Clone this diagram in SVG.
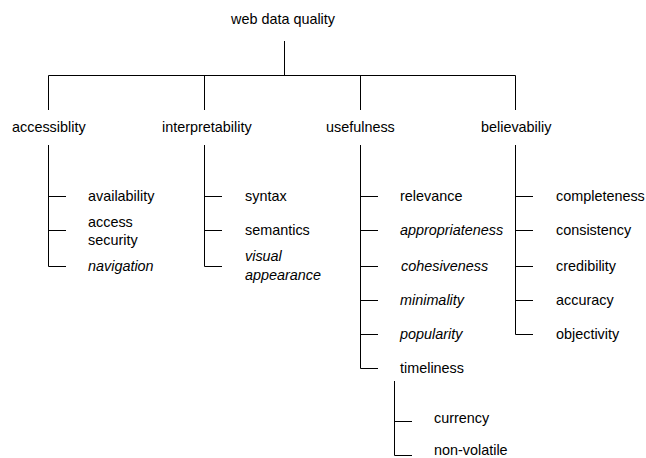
<svg xmlns="http://www.w3.org/2000/svg" width="646" height="458" viewBox="0 0 646 458">
<style>
text{font-family:"Liberation Sans",Arial,sans-serif;font-size:14.4px;fill:#000}
.i{font-style:italic}
#connectors path{fill:none;stroke:#000;stroke-width:1}
</style>
<rect width="646" height="458" fill="#fff"/>
<g id="connectors">
<path d="M284.5 41V75.5M48.5 110V75.5H515.5V110M204.5 75.5V110M360.5 75.5V110"/>
<path d="M48.5 145V266.5H66M48.5 196.5H66M48.5 230.5H66"/>
<path d="M204.5 145V266.5H222M204.5 196.5H222M204.5 230.5H222"/>
<path d="M360.5 145V368.5H378M360.5 196.5H378M360.5 230.5H378M360.5 266.5H378M360.5 300.5H378M360.5 334.5H378"/>
<path d="M515.5 145V334.5H533M515.5 196.5H533M515.5 230.5H533M515.5 266.5H533M515.5 300.5H533"/>
<path d="M394.5 381V455.5H412M394.5 421.5H412"/>
</g>
<g id="root"><text x="231" y="24">web data quality</text></g>
<g id="accessiblity"><text x="12" y="132">accessiblity</text></g>
<g id="interpretability"><text x="162" y="132">interpretability</text></g>
<g id="usefulness"><text x="326" y="132">usefulness</text></g>
<g id="believabiliy"><text x="481" y="132">believabiliy</text></g>
<g id="availability"><text x="88" y="201">availability</text></g>
<g id="access-security"><text x="88" y="227">access</text><text x="88" y="245">security</text></g>
<g id="navigation"><text class="i" x="88" y="271">navigation</text></g>
<g id="syntax"><text x="245" y="201">syntax</text></g>
<g id="semantics"><text x="245" y="235">semantics</text></g>
<g id="visual-appearance"><text class="i" x="245" y="261">visual</text><text class="i" x="245" y="279.5">appearance</text></g>
<g id="relevance"><text x="400" y="201">relevance</text></g>
<g id="appropriateness"><text class="i" x="400" y="235">appropriateness</text></g>
<g id="cohesiveness"><text class="i" x="401" y="271">cohesiveness</text></g>
<g id="minimality"><text class="i" x="400" y="304.5">minimality</text></g>
<g id="popularity"><text class="i" x="400" y="339">popularity</text></g>
<g id="timeliness"><text x="400" y="373">timeliness</text></g>
<g id="completeness"><text x="556" y="201">completeness</text></g>
<g id="consistency"><text x="556" y="235">consistency</text></g>
<g id="credibility"><text x="556" y="271">credibility</text></g>
<g id="accuracy"><text x="556" y="304.5">accuracy</text></g>
<g id="objectivity"><text x="556" y="339">objectivity</text></g>
<g id="currency"><text x="434" y="423">currency</text></g>
<g id="non-volatile"><text x="434" y="455">non-volatile</text></g>
</svg>
